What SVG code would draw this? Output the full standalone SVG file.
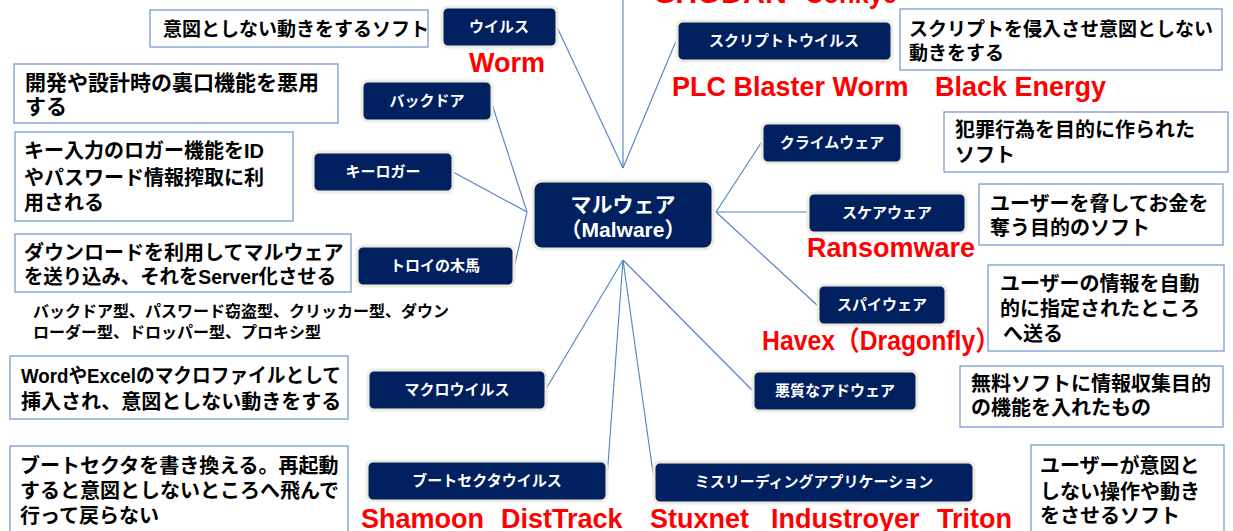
<svg xmlns="http://www.w3.org/2000/svg" width="1233" height="531" viewBox="0 0 1233 531">
<style>
.bg{fill:#ffffff}
.nd{fill:#002060;stroke:#EEECE1;stroke-width:3}
.nt{fill:#ffffff;font-family:"Liberation Sans","Noto Sans CJK JP",sans-serif;font-size:15px;font-weight:bold;text-anchor:middle}
.ct{fill:#ffffff;font-family:"Liberation Sans","Noto Sans CJK JP",sans-serif;font-size:21px;font-weight:bold;text-anchor:middle}
.db{fill:#ffffff;stroke:#6A93CF;stroke-width:1.2}
.dt{fill:#000000;font-family:"Liberation Sans","Noto Sans CJK JP",sans-serif;font-size:20px;font-weight:bold}
.st{fill:#000000;font-family:"Liberation Sans","Noto Sans CJK JP",sans-serif;font-size:16px;font-weight:bold}
.rt{fill:#FF0000;font-family:"Liberation Sans","Noto Sans CJK JP",sans-serif;font-size:27px;font-weight:bold}
.cn line{stroke:#4F81BD;stroke-width:1.1}
</style>
<rect class="bg" x="0" y="0" width="1233" height="531"/>

<g id="connectors" class="cn">
<line x1="623" y1="168" x2="557" y2="27"/>
<line x1="623" y1="168" x2="623" y2="0"/>
<line x1="623" y1="168" x2="676" y2="41"/>
<line x1="527" y1="212" x2="491" y2="101"/>
<line x1="527" y1="212" x2="453" y2="172"/>
<line x1="527" y1="212" x2="514" y2="268"/>
<line x1="716" y1="212" x2="761" y2="143"/>
<line x1="716" y1="212" x2="807" y2="212"/>
<line x1="716" y1="212" x2="818" y2="306"/>
<line x1="623" y1="260" x2="546" y2="389"/>
<line x1="623" y1="260" x2="607" y2="478"/>
<line x1="623" y1="260" x2="654" y2="480"/>
<line x1="623" y1="260" x2="752" y2="390"/>
</g>

<g id="top-labels">
<text class="rt" x="655" y="3" textLength="132" lengthAdjust="spacingAndGlyphs">SHODAN</text>
<text class="rt" x="805" y="3" textLength="92" lengthAdjust="spacingAndGlyphs">Conkye</text>
</g>

<g id="center">
<rect class="nd" x="533" y="181" width="180" height="68" rx="9"/>
<text class="ct" x="623" y="212">マルウェア</text>
<text class="ct" x="623" y="237">（Malware）</text>
</g>

<g id="virus">
<rect class="nd" x="442" y="7" width="115" height="40" rx="6"/>
<text class="nt" x="499" y="32">ウイルス</text>
<rect class="db" x="150" y="10" width="278" height="37"/>
<text class="dt" x="163" y="36" style="font-size:19px">意図としない動きをするソフト</text>
<text class="rt" x="469" y="72">Worm</text>
</g>

<g id="backdoor">
<rect class="nd" x="362" y="81" width="130" height="40" rx="6"/>
<text class="nt" x="427" y="106">バックドア</text>
<rect class="db" x="14" y="64" width="324" height="59"/>
<text class="dt" x="25" y="90" style="font-size:21px">開発や設計時の裏口機能を悪用</text>
<text class="dt" x="25" y="114" style="font-size:21px">する</text>
</g>

<g id="keylogger">
<rect class="nd" x="313" y="152" width="140" height="40" rx="6"/>
<text class="nt" x="383" y="177">キーロガー</text>
<rect class="db" x="15" y="132" width="278" height="89"/>
<text class="dt" x="24" y="158">キー入力のロガー機能をID</text>
<text class="dt" x="24" y="185">やパスワード情報搾取に利</text>
<text class="dt" x="24" y="210">用される</text>
</g>

<g id="trojan">
<rect class="nd" x="357" y="246" width="157" height="40" rx="6"/>
<text class="nt" x="435" y="271">トロイの木馬</text>
<rect class="db" x="15" y="234" width="336" height="58"/>
<text class="dt" x="24" y="260">ダウンロードを利用してマルウェア</text>
<text class="dt" x="24" y="284" textLength="312" lengthAdjust="spacingAndGlyphs">を送り込み、それをServer化させる</text>
<text class="st" x="33" y="317">バックドア型、パスワード窃盗型、クリッカー型、ダウン</text>
<text class="st" x="33" y="338">ローダー型、ドロッパー型、プロキシ型</text>
</g>

<g id="macro">
<rect class="nd" x="368" y="370" width="178" height="40" rx="6"/>
<text class="nt" x="457" y="395">マクロウイルス</text>
<rect class="db" x="10" y="356" width="338" height="63"/>
<text class="dt" x="21" y="383" textLength="320" lengthAdjust="spacingAndGlyphs">WordやExcelのマクロファイルとして</text>
<text class="dt" x="21" y="409">挿入され、意図としない動きをする</text>
</g>

<g id="bootsector">
<rect class="nd" x="367" y="461" width="240" height="40" rx="6"/>
<text class="nt" x="487" y="486">ブートセクタウイルス</text>
<rect class="db" x="10" y="446" width="338" height="90"/>
<text class="dt" x="20" y="473">ブートセクタを書き換える。再起動</text>
<text class="dt" x="20" y="498">すると意図としないところへ飛んで</text>
<text class="dt" x="20" y="523">行って戻らない</text>
<text class="rt" x="361" y="528">Shamoon</text>
<text class="rt" x="501" y="528">DistTrack</text>
</g>

<g id="script-virus">
<rect class="nd" x="677" y="21" width="215" height="40" rx="6"/>
<text class="nt" x="784" y="46">スクリプトトウイルス</text>
<rect class="db" x="900" y="9" width="322" height="61"/>
<text class="dt" x="909" y="36" style="font-size:19px">スクリプトを侵入させ意図としない</text>
<text class="dt" x="909" y="60" style="font-size:19px">動きをする</text>
<text class="rt" x="672" y="96">PLC Blaster Worm</text>
<text class="rt" x="935" y="96">Black Energy</text>
</g>

<g id="crimeware">
<rect class="nd" x="762" y="123" width="140" height="40" rx="6"/>
<text class="nt" x="832" y="148">クライムウェア</text>
<rect class="db" x="944" y="112" width="284" height="60"/>
<text class="dt" x="955" y="137">犯罪行為を目的に作られた</text>
<text class="dt" x="955" y="162">ソフト</text>
</g>

<g id="scareware">
<rect class="nd" x="808" y="193" width="158" height="40" rx="6"/>
<text class="nt" x="887" y="218">スケアウェア</text>
<rect class="db" x="979" y="184" width="244" height="61"/>
<text class="dt" x="990" y="211">ユーザーを脅してお金を</text>
<text class="dt" x="990" y="235">奪う目的のソフト</text>
<text class="rt" x="807" y="257">Ransomware</text>
</g>

<g id="spyware">
<rect class="nd" x="818" y="285" width="128" height="40" rx="6"/>
<text class="nt" x="882" y="310">スパイウェア</text>
<rect class="db" x="988" y="265" width="236" height="86"/>
<text class="dt" x="1000" y="291">ユーザーの情報を自動</text>
<text class="dt" x="1000" y="316">的に指定されたところ</text>
<text class="dt" x="1003" y="341">へ送る</text>
<text class="rt" x="762" y="350" textLength="238" lengthAdjust="spacingAndGlyphs">Havex（Dragonfly）</text>
</g>

<g id="adware">
<rect class="nd" x="753" y="371" width="164" height="40" rx="6"/>
<text class="nt" x="835" y="396">悪質なアドウェア</text>
<rect class="db" x="960" y="366" width="263" height="61"/>
<text class="dt" x="971" y="391">無料ソフトに情報収集目的</text>
<text class="dt" x="971" y="415">の機能を入れたもの</text>
</g>

<g id="misleading">
<rect class="nd" x="654" y="462" width="320" height="41" rx="6"/>
<text class="nt" x="814" y="487">ミスリーディングアプリケーション</text>
<rect class="db" x="1031" y="445" width="193" height="90"/>
<text class="dt" x="1040" y="473">ユーザーが意図と</text>
<text class="dt" x="1040" y="499">しない操作や動き</text>
<text class="dt" x="1040" y="523">をさせるソフト</text>
<text class="rt" x="650" y="528">Stuxnet</text>
<text class="rt" x="771" y="528">Industroyer</text>
<text class="rt" x="937" y="528">Triton</text>
</g>
</svg>
